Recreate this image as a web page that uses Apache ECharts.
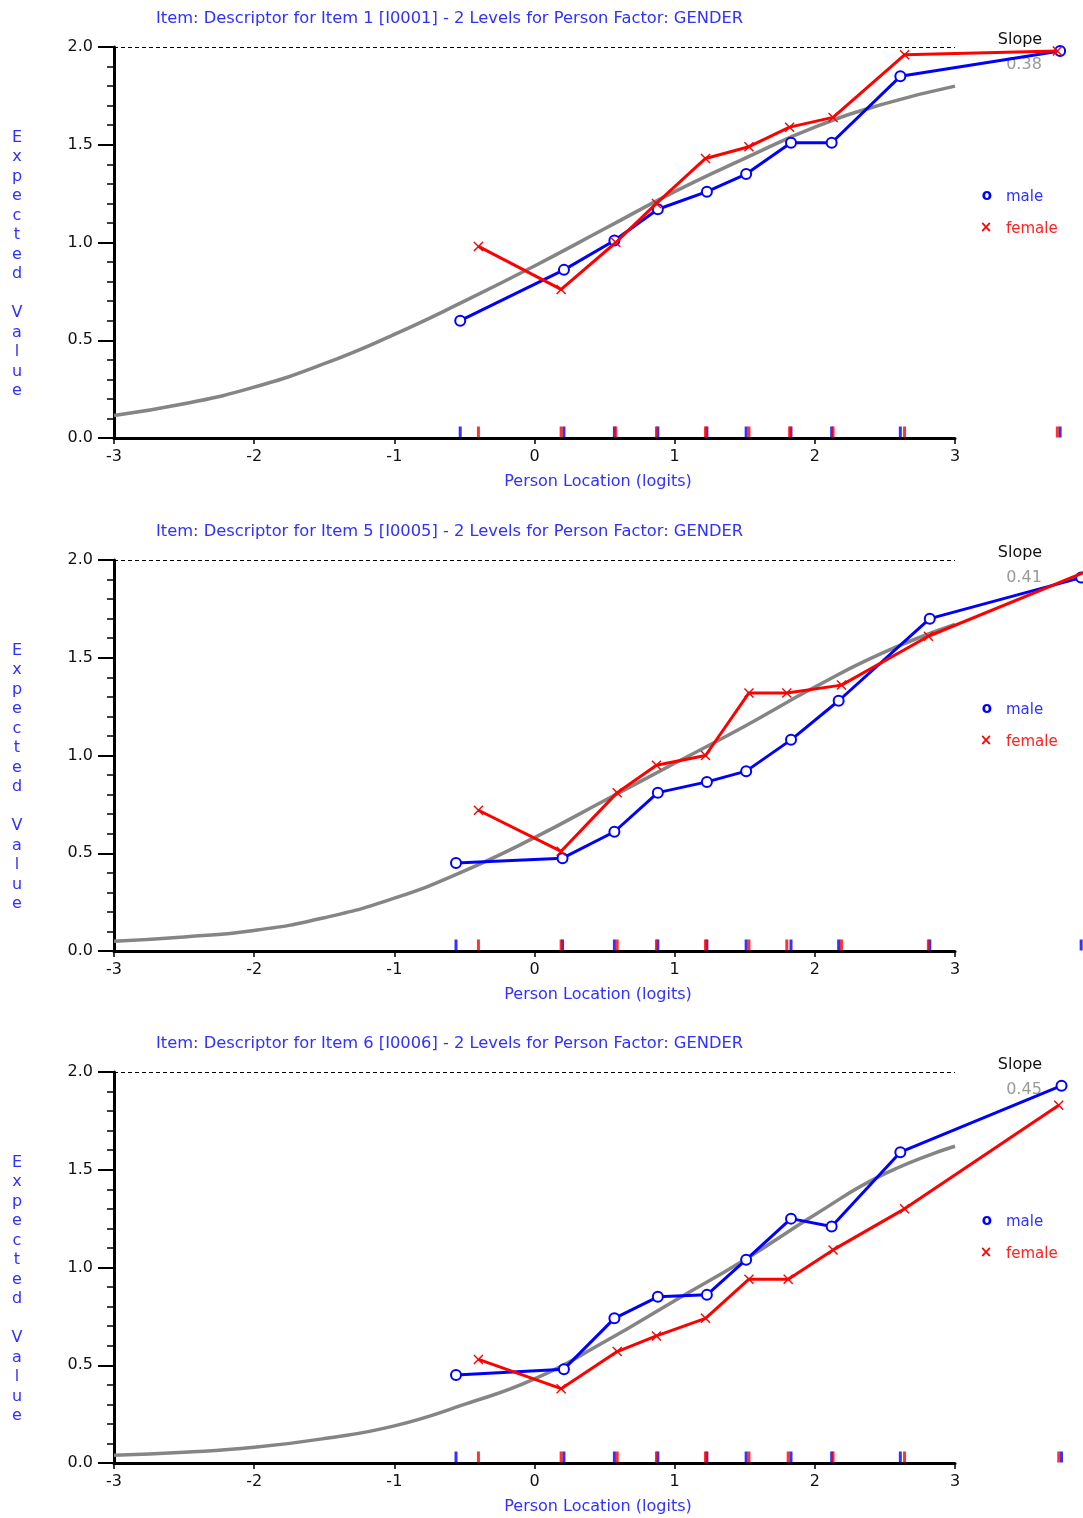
<!DOCTYPE html>
<html>
<head>
<meta charset="utf-8">
<title>Item characteristic curves by gender</title>
<script src="https://cdn.jsdelivr.net/npm/echarts@6/dist/echarts.min.js"></script>
<style>
  body { margin: 0; background: #fff; }
  .panel { position: absolute; left: 0; width: 1083px; height: 512px; }
  #item1 { top: 0; }
  #item5 { top: 513px; }
  #item6 { top: 1025px; height: 493px; }
</style>
</head>
<body>
<div id="item1" class="panel"></div>
<div id="item5" class="panel"></div>
<div id="item6" class="panel"></div>
<script>
  // logit grid for the expected-value (grey) curve
  var logitGrid = [-3, -2.5, -2, -1.5, -1, -0.5, 0, 0.5, 1, 1.5, 2, 2.5, 3];
  var xTickLabels = ['-3', '-2', '-1', '0', '1', '2', '3'];

  // item 1
  var item1Expected = [0.115, 0.175, 0.26, 0.38, 0.53, 0.70, 0.88, 1.07, 1.26, 1.43, 1.59, 1.71, 1.80];
  var item1MaleX = [-0.53, 0.21, 0.57, 0.88, 1.23, 1.51, 1.83, 2.12, 2.61, 3.75];
  var item1MaleY = [0.60, 0.86, 1.01, 1.17, 1.26, 1.35, 1.51, 1.51, 1.85, 1.98];
  var item1FemaleX = [-0.40, 0.19, 0.58, 0.87, 1.22, 1.53, 1.82, 2.13, 2.64, 3.73];
  var item1FemaleY = [0.98, 0.76, 1.00, 1.20, 1.43, 1.49, 1.59, 1.64, 1.96, 1.98];

  // item 5
  var item5Expected = [0.05, 0.072, 0.105, 0.17, 0.27, 0.41, 0.58, 0.77, 0.96, 1.15, 1.35, 1.53, 1.67];
  var item5MaleX = [-0.56, 0.20, 0.57, 0.88, 1.23, 1.51, 1.83, 2.17, 2.82, 3.90];
  var item5MaleY = [0.45, 0.475, 0.61, 0.81, 0.865, 0.92, 1.08, 1.28, 1.70, 1.91];
  var item5FemaleX = [-0.40, 0.19, 0.59, 0.87, 1.22, 1.53, 1.80, 2.19, 2.81, 3.95];
  var item5FemaleY = [0.72, 0.51, 0.81, 0.95, 1.00, 1.32, 1.32, 1.36, 1.61, 1.945];

  // item 6
  var item6Expected = [0.04, 0.055, 0.08, 0.125, 0.19, 0.30, 0.43, 0.62, 0.83, 1.04, 1.27, 1.48, 1.62];
  var item6MaleX = [-0.56, 0.21, 0.57, 0.88, 1.23, 1.51, 1.83, 2.12, 2.61, 3.76];
  var item6MaleY = [0.45, 0.48, 0.74, 0.85, 0.86, 1.04, 1.25, 1.21, 1.59, 1.93];
  var item6FemaleX = [-0.40, 0.19, 0.59, 0.87, 1.22, 1.53, 1.81, 2.13, 2.64, 3.74];
  var item6FemaleY = [0.53, 0.38, 0.57, 0.65, 0.74, 0.94, 0.94, 1.09, 1.30, 1.83];

  var FONT = 'DejaVu Sans';
  var TEXT_BLUE = '#3030ff';
  var crossPath = 'path://M0,1 L1,0 L5,4 L9,0 L10,1 L6,5 L10,9 L9,10 L5,6 L1,10 L0,9 L4,5 Z';
  // plot area: x from -3 to 3 over 841px; data grid runs on past x=3 at the same scale
  var PLOT_W = 841;
  var DATA_MAX = 3.9;

  function pairs(xs, ys) {
    return xs.map(function (x, i) { return [x, ys[i]]; });
  }

  function rugSeries(xs, color) {
    return {
      type: 'scatter',
      xAxisIndex: 1,
      yAxisIndex: 1,
      data: xs.map(function (x) { return [x, 0]; }),
      symbol: 'rect',
      symbolSize: [3, 11],
      symbolOffset: [0, -6],
      clip: false,
      silent: true,
      itemStyle: { color: color },
      z: 5
    };
  }

  function makeOption(title, slope, expected, maleX, maleY, femaleX, femaleY) {
    return {
      animation: false,
      backgroundColor: '#fff',
      title: {
        text: title,
        left: 151,
        top: 6,
        textStyle: { color: TEXT_BLUE, fontSize: 16.3, fontWeight: 'normal', fontFamily: FONT }
      },
      grid: [
        { left: 114, top: 47, width: PLOT_W, height: 391 },
        { left: 114, top: 47, width: PLOT_W * (DATA_MAX + 3) / 6, height: 391 }
      ],
      xAxis: [
        {
          type: 'value',
          gridIndex: 0,
          min: -3,
          max: 3,
          interval: 1,
          axisLine: { onZero: false, lineStyle: { color: '#000', width: 3 } },
          axisTick: { length: 6, lineStyle: { color: '#000', width: 1.5 } },
          axisLabel: {
            color: '#111', fontSize: 16, fontFamily: FONT, margin: 11,
            formatter: function (v) { return xTickLabels[Math.round(v) + 3]; }
          },
          splitLine: { show: false }
        },
        {
          type: 'value', gridIndex: 1, min: -3, max: DATA_MAX, show: false
        }
      ],
      yAxis: [
        {
          type: 'value',
          gridIndex: 0,
          min: 0,
          max: 2,
          interval: 0.5,
          axisLine: { show: true, onZero: false, lineStyle: { color: '#000', width: 3 } },
          axisTick: { show: true, length: 16, lineStyle: { color: '#000', width: 2 } },
          minorTick: { show: true, splitNumber: 5, length: 7, lineStyle: { color: '#000', width: 1.5 } },
          axisLabel: {
            color: '#111', fontSize: 16, fontFamily: FONT, margin: 21,
            formatter: function (v) { return v.toFixed(1); }
          },
          splitLine: { show: false }
        },
        {
          type: 'value', gridIndex: 1, min: 0, max: 2, show: false
        }
      ],
      series: [
        {
          name: 'expected',
          type: 'line',
          xAxisIndex: 1,
          yAxisIndex: 1,
          data: pairs(logitGrid, expected),
          smooth: 0.5,
          symbol: 'none',
          lineStyle: { color: '#858585', width: 3.5 },
          z: 2,
          markLine: {
            silent: true,
            symbol: ['none', 'none'],
            label: { show: false },
            lineStyle: { color: '#000', width: 1, type: [4, 3] },
            data: [[{ coord: [-3, 2] }, { coord: [3, 2] }]]
          }
        },
        rugSeries(maleX, '#0000ff'),
        rugSeries(femaleX, '#ff0000'),
        {
          name: 'male',
          type: 'line',
          xAxisIndex: 1,
          yAxisIndex: 1,
          data: pairs(maleX, maleY),
          symbol: 'emptyCircle',
          symbolSize: 10,
          lineStyle: { color: '#0000ff', width: 3 },
          itemStyle: { color: '#0000ff', borderWidth: 2 },
          z: 3
        },
        {
          name: 'female',
          type: 'line',
          xAxisIndex: 1,
          yAxisIndex: 1,
          data: pairs(femaleX, femaleY),
          symbol: crossPath,
          symbolSize: 10,
          lineStyle: { color: '#ff0000', width: 3 },
          itemStyle: { color: '#ff0000', borderWidth: 0 },
          z: 4
        }
      ],
      graphic: [
        {
          type: 'text', x: 17, y: 128,
          style: {
            text: 'E\nx\np\ne\nc\nt\ne\nd\n\nV\na\nl\nu\ne',
            fill: TEXT_BLUE, font: '16px "DejaVu Sans"', lineHeight: 19.5,
            textAlign: 'center', textVerticalAlign: 'top'
          }
        },
        {
          type: 'text', x: 598, y: 482,
          style: { text: 'Person Location (logits)', fill: TEXT_BLUE, font: '16px "DejaVu Sans"', textAlign: 'center', textVerticalAlign: 'middle' }
        },
        {
          type: 'text', x: 1020, y: 40,
          style: { text: 'Slope', fill: '#111', font: '16px "DejaVu Sans"', textAlign: 'center', textVerticalAlign: 'middle' }
        },
        {
          type: 'text', x: 1024, y: 65, z: 1,
          style: { text: slope, fill: '#999', font: '16px "DejaVu Sans"', textAlign: 'center', textVerticalAlign: 'middle' }
        },
        {
          type: 'text', x: 987, y: 196,
          style: { text: 'o', fill: '#0000ff', font: 'bold 15px "DejaVu Sans"', textAlign: 'center', textVerticalAlign: 'middle' }
        },
        {
          type: 'text', x: 1006, y: 197,
          style: { text: 'male', fill: TEXT_BLUE, font: '15px "DejaVu Sans"', textAlign: 'left', textVerticalAlign: 'middle' }
        },
        {
          type: 'text', x: 986, y: 228,
          style: { text: '\u00d7', fill: '#ff0000', font: 'bold 15px "DejaVu Sans"', textAlign: 'center', textVerticalAlign: 'middle' }
        },
        {
          type: 'text', x: 1006, y: 229,
          style: { text: 'female', fill: '#ff2020', font: '15px "DejaVu Sans"', textAlign: 'left', textVerticalAlign: 'middle' }
        }
      ]
    };
  }

  var chart1 = echarts.init(document.getElementById('item1'));
  var chart5 = echarts.init(document.getElementById('item5'));
  var chart6 = echarts.init(document.getElementById('item6'));

  chart1.setOption(makeOption('Item: Descriptor for Item 1 [I0001] - 2 Levels for Person Factor: GENDER', '0.38',
    item1Expected, item1MaleX, item1MaleY, item1FemaleX, item1FemaleY));
  chart5.setOption(makeOption('Item: Descriptor for Item 5 [I0005] - 2 Levels for Person Factor: GENDER', '0.41',
    item5Expected, item5MaleX, item5MaleY, item5FemaleX, item5FemaleY));
  chart6.setOption(makeOption('Item: Descriptor for Item 6 [I0006] - 2 Levels for Person Factor: GENDER', '0.45',
    item6Expected, item6MaleX, item6MaleY, item6FemaleX, item6FemaleY));
</script>
</body>
</html>
